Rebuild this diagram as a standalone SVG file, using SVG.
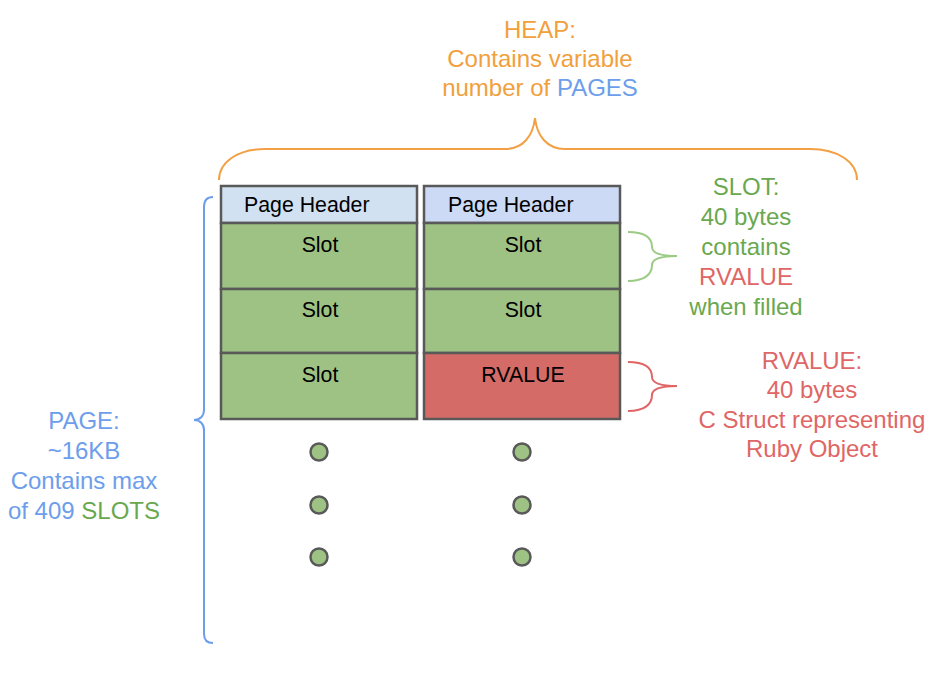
<svg xmlns="http://www.w3.org/2000/svg" width="944" height="684" viewBox="0 0 944 684">
<style>
text{font-family:"Liberation Sans",Arial,sans-serif;}
.box{stroke:#595959;stroke-width:2.5;}
.hdr1{fill:#d2e1f2;}
.hdr2{fill:#ccdaf5;}
.slot{fill:#9dc283;}
.rv{fill:#d46b66;}
.bt{font-size:21.3px;fill:#000;text-anchor:middle;}
.ht{font-size:21.3px;fill:#000;}
.ann{font-size:24px;text-anchor:middle;}
.orange{fill:#f1a03c;}
.blue{fill:#6d9eeb;}
.green{fill:#6aa84f;}
.red{fill:#e06666;}
.dot{fill:#9dc283;stroke:#595959;stroke-width:2.5;}
.brace{fill:none;stroke-width:2;}
</style>
<rect width="944" height="684" fill="#fff"/>

<g id="heap-label">
<text class="ann orange" x="540" y="38">HEAP:</text>
<text class="ann orange" x="540" y="67">Contains variable</text>
<text class="ann orange" x="540" y="96">number of <tspan class="blue">PAGES</tspan></text>
</g>

<g id="page-label">
<text class="ann blue" x="84" y="429">PAGE:</text>
<text class="ann blue" x="84" y="459">~16KB</text>
<text class="ann blue" x="84" y="489">Contains max</text>
<text class="ann blue" x="84" y="519">of 409 <tspan class="green">SLOTS</tspan></text>
</g>

<g id="slot-label">
<text class="ann green" x="746" y="195">SLOT:</text>
<text class="ann green" x="746" y="225">40 bytes</text>
<text class="ann green" x="746" y="255">contains</text>
<text class="ann red" x="746" y="285">RVALUE</text>
<text class="ann green" x="746" y="315">when filled</text>
</g>

<g id="rvalue-label">
<text class="ann red" x="812" y="369">RVALUE:</text>
<text class="ann red" x="812" y="398">40 bytes</text>
<text class="ann red" x="812" y="428">C Struct representing</text>
<text class="ann red" x="812" y="457">Ruby Object</text>
</g>

<g id="page1">
<rect class="box hdr1" x="221" y="186" width="196" height="37"/>
<text class="ht" x="244" y="212">Page Header</text>
<rect class="box slot" x="221" y="223" width="196" height="66"/>
<text class="bt" x="320" y="252">Slot</text>
<rect class="box slot" x="221" y="289" width="196" height="64"/>
<text class="bt" x="320" y="317">Slot</text>
<rect class="box slot" x="221" y="353" width="196" height="66"/>
<text class="bt" x="320" y="382">Slot</text>
<circle class="dot" cx="319" cy="452" r="8.5"/>
<circle class="dot" cx="319" cy="505" r="8.5"/>
<circle class="dot" cx="319" cy="557" r="8.5"/>
</g>

<g id="page2">
<rect class="box hdr2" x="424" y="186" width="196" height="37"/>
<text class="ht" x="448" y="212">Page Header</text>
<rect class="box slot" x="424" y="223" width="196" height="66"/>
<text class="bt" x="523" y="252">Slot</text>
<rect class="box slot" x="424" y="289" width="196" height="64"/>
<text class="bt" x="523" y="317">Slot</text>
<rect class="box rv" x="424" y="353" width="196" height="66"/>
<text class="bt" x="523" y="382">RVALUE</text>
<circle class="dot" cx="522" cy="452" r="8.5"/>
<circle class="dot" cx="522" cy="505" r="8.5"/>
<circle class="dot" cx="522" cy="557" r="8.5"/>
</g>

<g id="connectors">
<path class="brace" stroke="#f2a043" d="M219,180 C219,162 238,149 265,149 L505,149 C523,149 533,136 535,118 C537,136 547,149 565,149 L810,149 C838,149 857,162 857,180"/>
<path class="brace" stroke="#6d9eeb" d="M213,197 C207,197 204,201 204,207 L204,410 C204,416 200,420 194,420 C200,420 204,424 204,430 L204,634 C204,640 207,643 213,643"/>
<path class="brace" stroke="#9ccb86" d="M628,232 C645,232 652,238 652,247 C652,253 660,256 677,256 C660,256 652,259 652,265 C652,274 645,281 628,281"/>
<path class="brace" stroke="#e06666" d="M628,362 C645,362 652,368 652,377 C652,383 660,386 677,386 C660,386 652,389 652,395 C652,404 645,411 628,411"/>
</g>
</svg>
